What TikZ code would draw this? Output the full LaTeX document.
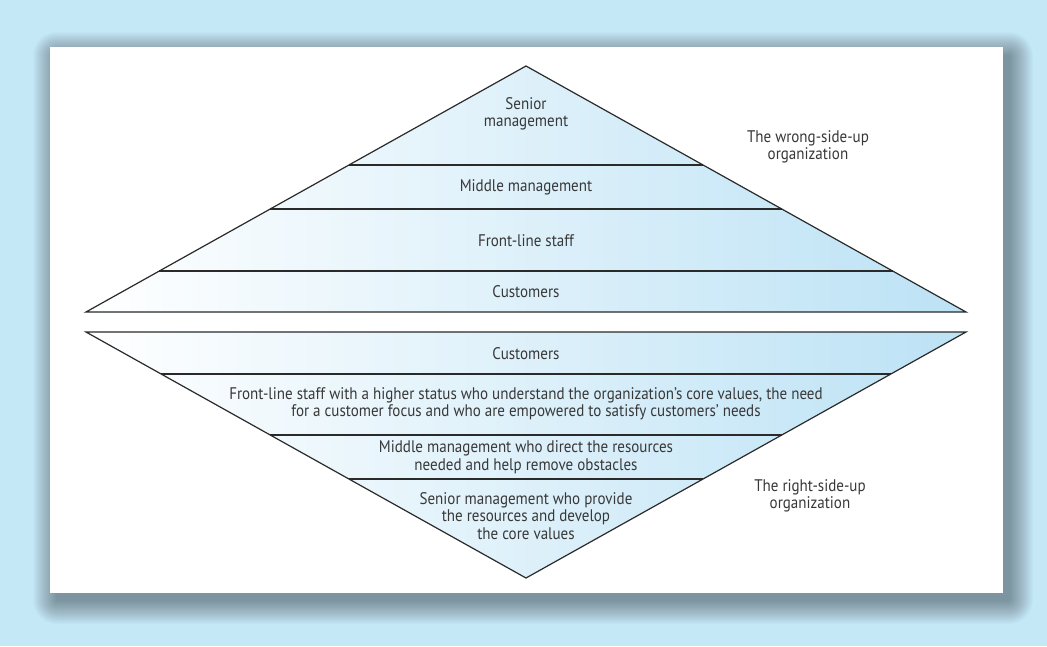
\documentclass[tikz,border=0pt]{standalone}
\usepackage{fontspec}
\newfontfamily\labfont{PT Sans}[FakeStretch=0.895]
\definecolor{bgblue}{HTML}{C5E8F7}
\definecolor{fillblue}{HTML}{BCE2F5}
\definecolor{linegray}{HTML}{2A2A2A}
\definecolor{txtgray}{HTML}{383838}
\tikzset{
  tier/.style={line width=1.2pt, draw=linegray},
  lbl/.style={font=\labfont\fontsize{16.8}{17.5}\selectfont, text=txtgray, align=center, inner sep=0pt},
}
\begin{document}
\begin{tikzpicture}[x=1pt,y=-1pt]
\useasboundingbox (0,0) rectangle (1047,646);
\fill[bgblue] (0,0) rectangle (1047,646);
% shadow
\foreach \k in {0,...,23} {
  \pgfmathsetmacro\d{24-\k*1.0}
  \fill[black, opacity=0.016, rounded corners=\d pt] (57-\d,56-\d) rectangle (1009+\d,600+\d);
}
% panel
\fill[white] (50,47) rectangle (1003,593);
% top triangle
\shade[left color=white, right color=fillblue] (526,66) -- (966,312) -- (86,312) -- cycle;
\draw[tier, line join=miter] (526,66) -- (966,312) -- (86,312) -- cycle;
\draw[tier] (348.9,165) -- (703.1,165);
\draw[tier] (270.2,209) -- (781.8,209);
\draw[tier] (159.3,271) -- (892.7,271);
% bottom triangle
\shade[left color=white, right color=fillblue] (86,332) -- (966,332) -- (526,578) -- cycle;
\draw[tier, line join=miter] (86,332) -- (966,332) -- (526,578) -- cycle;
\draw[tier] (161.1,374) -- (890.9,374);
\draw[tier] (270.2,435) -- (781.8,435);
\draw[tier] (348.9,479) -- (703.1,479);
% texts
\node[lbl] (s1) at (526,114) {Senior\\management};
\node[lbl] (s2) at (526,187) {Middle management};
\node[lbl] (s3) at (526,241) {Front-line staff};
\node[lbl] (s4) at (526,292) {Customers};
\node[lbl] (r1) at (526,354) {Customers};
\node[lbl] (r2) at (526,404) {Front-line staff with a higher status who understand the organization’s core values, the need\\for a customer focus and who are empowered to satisfy customers’ needs};
\node[lbl] (r3) at (526,457) {Middle management who direct the resources\\needed and help remove obstacles};
\node[lbl] (r4) at (526,516) {Senior management who provide\\the resources and develop\\the core values};
\node[lbl] (w1) at (808,147) {The wrong-side-up\\organization};
\node[lbl] (w2) at (810,496) {The right-side-up\\organization};
\end{tikzpicture}
\end{document}
